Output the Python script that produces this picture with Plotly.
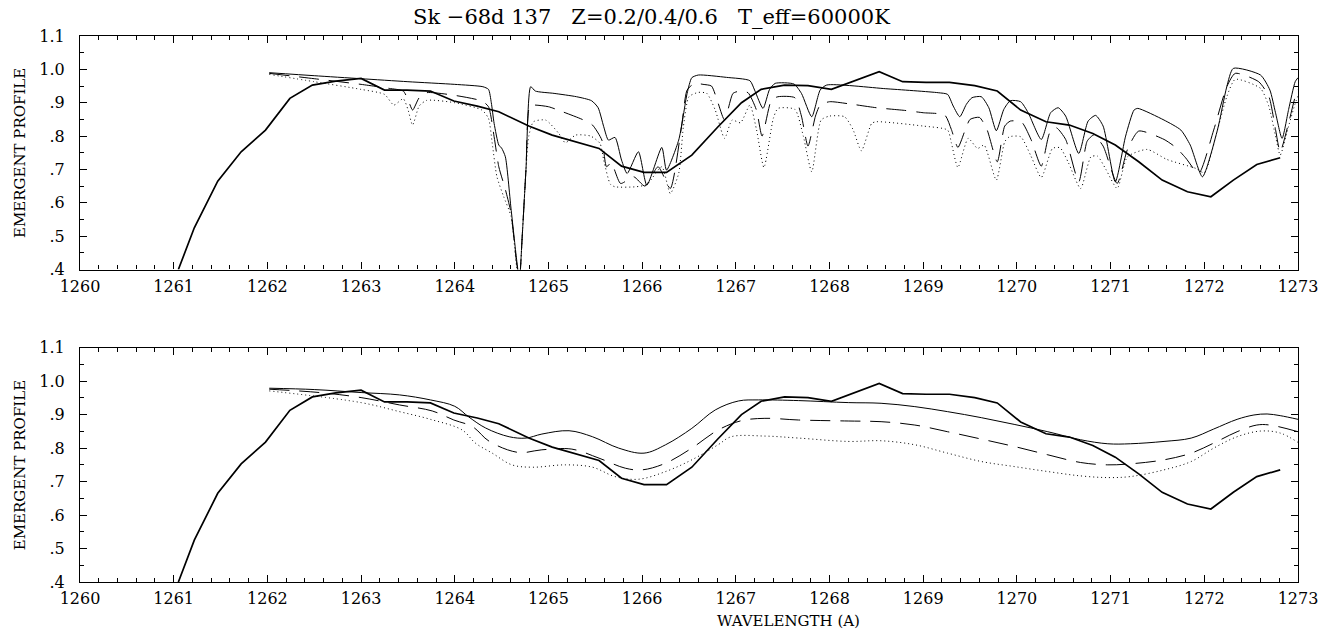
import plotly.graph_objects as go

# ---------------- data ----------------
# observed spectrum (thick solid), same in both panels
obs_x = [1261.05, 1261.22, 1261.47, 1261.72, 1261.98, 1262.24, 1262.48, 1262.73, 1263.00, 1263.25,
         1263.49, 1263.74, 1263.99, 1264.24, 1264.47, 1264.79, 1265.04, 1265.29, 1265.54, 1265.78,
         1266.02, 1266.26, 1266.53, 1266.81, 1267.06, 1267.27, 1267.52, 1267.77, 1268.02, 1268.53,
         1268.78, 1269.03, 1269.28, 1269.55, 1269.79, 1270.04, 1270.31, 1270.56, 1270.81, 1271.05,
         1271.30, 1271.55, 1271.82, 1272.07, 1272.31, 1272.56, 1272.81]
obs_y = [0.400, 0.525, 0.665, 0.753, 0.818, 0.913, 0.953, 0.965, 0.973, 0.938,
         0.938, 0.935, 0.905, 0.890, 0.873, 0.830, 0.803, 0.783, 0.763, 0.710,
         0.691, 0.691, 0.743, 0.828, 0.900, 0.940, 0.953, 0.951, 0.940, 0.993,
         0.963, 0.961, 0.961, 0.951, 0.935, 0.878, 0.843, 0.833, 0.808, 0.773,
         0.723, 0.668, 0.633, 0.618, 0.668, 0.715, 0.735]

# model Z=0.2 (thin solid), unsmoothed
z2_x = [1262.02, 1262.50, 1263.00, 1263.50, 1264.00, 1264.30, 1264.36, 1264.39, 1264.42, 1264.47,
        1264.50, 1264.54, 1264.60, 1264.66, 1264.69, 1264.72, 1264.76, 1264.81, 1264.86, 1265.06,
        1265.30, 1265.46, 1265.53, 1265.59,
        1265.64, 1265.71, 1265.78, 1265.84, 1265.96, 1266.05, 1266.21, 1266.26, 1266.39, 1266.48,
        1266.53, 1266.60, 1266.90, 1267.15, 1267.20, 1267.29, 1267.36, 1267.42, 1267.62, 1267.70,
        1267.81, 1267.90, 1267.97, 1268.60, 1269.16, 1269.26, 1269.32, 1269.39, 1269.46, 1269.52,
        1269.62, 1269.70, 1269.78, 1269.86, 1269.93, 1270.04, 1270.12, 1270.26, 1270.36, 1270.44,
        1270.52, 1270.66, 1270.76, 1270.84, 1270.92, 1271.05, 1271.16, 1271.25, 1271.29, 1271.57,
        1271.75, 1271.85, 1271.98, 1272.14, 1272.24, 1272.31, 1272.60, 1272.70, 1272.76, 1272.83,
        1272.90, 1272.97, 1273.00]
z2_y = [0.990, 0.981, 0.972, 0.963, 0.955, 0.948, 0.940, 0.900, 0.838, 0.773,
        0.764, 0.738, 0.584, 0.430, 0.370, 0.500, 0.700, 0.948, 0.935, 0.928,
        0.918, 0.906, 0.885, 0.828,
        0.788, 0.796, 0.728, 0.688, 0.753, 0.653, 0.766, 0.698, 0.788, 0.928,
        0.975, 0.983, 0.976, 0.966, 0.938, 0.883, 0.940, 0.958, 0.956, 0.928,
        0.858, 0.938, 0.953, 0.942, 0.930, 0.925, 0.890, 0.858, 0.895, 0.915,
        0.918, 0.885, 0.816, 0.880, 0.906, 0.903, 0.870, 0.790, 0.870, 0.885,
        0.860, 0.748, 0.845, 0.862, 0.830, 0.663, 0.800, 0.878, 0.883, 0.848,
        0.818, 0.773, 0.678, 0.818, 0.948, 1.003, 0.983, 0.938, 0.870, 0.793,
        0.880, 0.963, 0.975]

# model Z=0.4 (dashed), unsmoothed
z4_x = [1262.02, 1262.50, 1263.00, 1263.30, 1263.45, 1263.50, 1263.55, 1263.62, 1263.70, 1264.00,
        1264.29, 1264.36, 1264.42, 1264.47, 1264.54, 1264.60, 1264.66, 1264.69, 1264.72, 1264.76,
        1264.80, 1264.85, 1265.00,
        1265.15, 1265.36, 1265.47, 1265.57, 1265.62, 1265.67, 1265.77, 1265.91, 1266.03, 1266.17,
        1266.30, 1266.42, 1266.48, 1266.56, 1266.65, 1266.74, 1266.80, 1266.88, 1266.97, 1267.05,
        1267.13, 1267.22, 1267.28, 1267.38, 1267.45, 1267.63, 1267.70, 1267.77, 1267.85, 1267.90,
        1268.00, 1268.20, 1268.50, 1268.80, 1269.00, 1269.23, 1269.30, 1269.37, 1269.45, 1269.50,
        1269.60, 1269.68, 1269.79, 1269.87, 1269.93, 1270.05, 1270.15, 1270.26, 1270.35, 1270.42,
        1270.52, 1270.66, 1270.75, 1270.82, 1270.92, 1271.07, 1271.18, 1271.30, 1271.57, 1271.70,
        1271.80, 1271.94, 1272.10, 1272.24, 1272.33, 1272.58, 1272.69, 1272.76, 1272.81, 1272.90,
        1272.97, 1273.00]
z4_y = [0.988, 0.972, 0.955, 0.943, 0.935, 0.910, 0.878, 0.915, 0.930, 0.922,
        0.905, 0.888, 0.798, 0.708, 0.640, 0.570, 0.420, 0.370, 0.500, 0.700,
        0.890, 0.893, 0.888,
        0.873, 0.850, 0.833, 0.788, 0.708, 0.720, 0.658, 0.678, 0.650, 0.708,
        0.643, 0.828, 0.938, 0.958, 0.955, 0.950, 0.908, 0.848, 0.928, 0.935,
        0.930, 0.878, 0.800, 0.908, 0.918, 0.915, 0.860, 0.770, 0.860, 0.893,
        0.903, 0.897, 0.885, 0.877, 0.870, 0.863, 0.820, 0.766, 0.820, 0.850,
        0.856, 0.820, 0.723, 0.830, 0.845, 0.842, 0.790, 0.710, 0.810, 0.825,
        0.790, 0.663, 0.785, 0.803, 0.770, 0.658, 0.760, 0.815, 0.790, 0.765,
        0.735, 0.688, 0.818, 0.948, 0.988, 0.963, 0.918, 0.820, 0.753, 0.840,
        0.918, 0.940]

# model Z=0.6 (dotted), unsmoothed
z6_x = [1262.02, 1262.50, 1263.00, 1263.25, 1263.35, 1263.45, 1263.50, 1263.55, 1263.62, 1263.70,
        1264.00, 1264.29, 1264.36, 1264.40, 1264.45, 1264.52, 1264.60, 1264.66, 1264.69, 1264.72,
        1264.76, 1264.79, 1264.84,
        1264.97, 1265.11, 1265.18, 1265.29, 1265.45, 1265.55, 1265.59, 1265.66, 1265.71, 1265.93,
        1266.05, 1266.21, 1266.30, 1266.39, 1266.44, 1266.50, 1266.60, 1266.69, 1266.78, 1266.88,
        1266.96, 1267.05, 1267.15, 1267.22, 1267.30, 1267.40, 1267.45, 1267.63, 1267.72, 1267.81,
        1267.91, 1268.00, 1268.16, 1268.25, 1268.34, 1268.45, 1268.50, 1269.00, 1269.26, 1269.30,
        1269.37, 1269.48, 1269.58, 1269.65, 1269.78, 1269.87, 1269.92, 1270.04, 1270.15, 1270.26,
        1270.38, 1270.46, 1270.55, 1270.68, 1270.79, 1270.86, 1270.95, 1271.07, 1271.18, 1271.39,
        1271.60, 1271.91, 1272.00, 1272.14, 1272.24, 1272.33, 1272.60, 1272.69, 1272.76, 1272.81,
        1272.90, 1272.97, 1273.00]
z6_y = [0.985, 0.963, 0.940, 0.925, 0.893, 0.912, 0.880, 0.833, 0.890, 0.907,
        0.900, 0.878, 0.853, 0.778, 0.678, 0.620, 0.560, 0.410, 0.370, 0.500,
        0.700, 0.800, 0.843,
        0.848, 0.808, 0.780, 0.803, 0.800, 0.778, 0.728, 0.656, 0.648, 0.648,
        0.655, 0.708, 0.628, 0.688, 0.828, 0.918, 0.931, 0.928, 0.878, 0.793,
        0.848, 0.840, 0.893, 0.820, 0.706, 0.853, 0.883, 0.880, 0.800, 0.693,
        0.848, 0.860, 0.858, 0.820, 0.756, 0.838, 0.843, 0.830, 0.818, 0.780,
        0.706, 0.793, 0.763, 0.773, 0.668, 0.783, 0.798, 0.798, 0.740, 0.676,
        0.763, 0.765, 0.720, 0.643, 0.738, 0.740, 0.700, 0.643, 0.738, 0.760,
        0.730, 0.703, 0.690, 0.818, 0.918, 0.970, 0.943, 0.888, 0.800, 0.743,
        0.830, 0.898, 0.920]

# smoothed (convolved) models, lower panel
s2_x = [1262.02, 1262.50, 1263.00, 1263.41, 1263.74, 1264.00, 1264.15, 1264.33, 1264.58, 1264.76,
        1264.93, 1265.22, 1265.47, 1265.75, 1266.02, 1266.25, 1266.53, 1266.78, 1267.03, 1267.24,
        1267.67, 1268.20, 1268.55, 1268.91, 1269.26, 1269.62, 1269.97, 1270.33, 1270.68, 1270.97,
        1271.21, 1271.57, 1271.86, 1272.10, 1272.35, 1272.53, 1272.67, 1272.81, 1273.00]
s2_y = [0.979, 0.975, 0.966, 0.959, 0.944, 0.925, 0.893, 0.860, 0.834, 0.830,
        0.842, 0.852, 0.834, 0.800, 0.785, 0.810, 0.859, 0.914, 0.941, 0.944,
        0.942, 0.936, 0.934, 0.924, 0.909, 0.891, 0.871, 0.849, 0.825, 0.813,
        0.813, 0.820, 0.830, 0.857, 0.886, 0.899, 0.902, 0.897, 0.886]

s4_x = [1262.02, 1262.56, 1263.00, 1263.41, 1263.76, 1263.99, 1264.19, 1264.37, 1264.68, 1264.93,
        1265.25, 1265.54, 1265.82, 1266.00, 1266.25, 1266.53, 1266.81, 1267.06, 1267.31, 1267.67,
        1268.20, 1268.55, 1268.91, 1269.26, 1269.62, 1269.97, 1270.33, 1270.68, 1270.97, 1271.21,
        1271.57, 1271.86, 1272.10, 1272.35, 1272.56, 1272.70, 1273.00]
s4_y = [0.976, 0.966, 0.951, 0.929, 0.911, 0.884, 0.864, 0.820, 0.787, 0.795,
        0.797, 0.770, 0.740, 0.735, 0.755, 0.800, 0.854, 0.882, 0.889, 0.884,
        0.881, 0.879, 0.869, 0.849, 0.827, 0.805, 0.780, 0.757, 0.750, 0.753,
        0.765, 0.785, 0.815, 0.849, 0.869, 0.869, 0.849]

s6_x = [1262.02, 1263.00, 1263.41, 1263.74, 1264.08, 1264.22, 1264.40, 1264.61, 1264.83, 1265.18,
        1265.47, 1265.71, 1265.96, 1266.25, 1266.53, 1266.81, 1266.95, 1267.31, 1267.67, 1268.20,
        1268.55, 1268.91, 1269.26, 1269.62, 1269.97, 1270.33, 1270.68, 1270.97, 1271.21, 1271.57,
        1271.86, 1272.10, 1272.35, 1272.60, 1272.81, 1273.00]
s6_y = [0.971, 0.936, 0.909, 0.886, 0.854, 0.815, 0.785, 0.750, 0.743, 0.750,
        0.743, 0.715, 0.707, 0.730, 0.765, 0.810, 0.834, 0.836, 0.830, 0.820,
        0.822, 0.810, 0.785, 0.760, 0.745, 0.730, 0.717, 0.712, 0.715, 0.735,
        0.760, 0.800, 0.834, 0.851, 0.845, 0.817]

x_ticks = list(range(1260, 1274))
y_ticks = [0.4, 0.5, 0.6, 0.7, 0.8, 0.9, 1.0, 1.1]
y_ticktext = [".4", ".5", ".6", ".7", ".8", ".9", "1.0", "1.1"]

title_text = "Sk \u221268d 137\u00a0\u00a0 Z=0.2/0.4/0.6\u00a0\u00a0 T_eff=60000K"
xlabel = "WAVELENGTH (A)"
ylabel = "EMERGENT PROFILE"

# ---------------- figure ----------------
FONT = "DejaVu Serif"
fig = go.Figure()

def add_panel(xa, ya, models, smooth):
    styles = [dict(color="black", width=1.0, dash="solid"),
              dict(color="black", width=1.0, dash="20px,10px"),
              dict(color="black", width=1.0, dash="1px,3px")]
    for (mx, my), st in zip(models, styles):
        fig.add_trace(go.Scatter(x=mx, y=my, mode="lines", xaxis=xa, yaxis=ya,
                                 line=dict(shape="spline", smoothing=1.0 if smooth else 0.6, **st),
                                 showlegend=False, hoverinfo="skip"))
    fig.add_trace(go.Scatter(x=obs_x, y=obs_y, mode="lines", xaxis=xa, yaxis=ya,
                             line=dict(color="black", width=1.7),
                             showlegend=False, hoverinfo="skip"))

add_panel("x", "y", [(z2_x, z2_y), (z4_x, z4_y), (z6_x, z6_y)], False)
add_panel("x2", "y2", [(s2_x, s2_y), (s4_x, s4_y), (s6_x, s6_y)], True)

tickfont = dict(family=FONT, size=16, color="black")
def xaxis(anchor):
    return dict(range=[1260, 1273], tickmode="array", tickvals=x_ticks,
                ticktext=[str(v) for v in x_ticks],
                ticks="inside", ticklen=7, tickwidth=1, tickcolor="black",
                showline=True, linecolor="black", linewidth=1.2, mirror="ticks",
                showgrid=False, zeroline=False, anchor=anchor, domain=[0, 1],
                minor=dict(dtick=0.2, tick0=1260, ticks="inside", ticklen=4,
                           tickcolor="black", tickwidth=1, showgrid=False),
                tickfont=tickfont, ticklabelstandoff=2)

def yaxis(anchor, dom):
    return dict(range=[0.4, 1.1], tickmode="array", tickvals=y_ticks, ticktext=y_ticktext,
                ticks="inside", ticklen=7, tickwidth=1, tickcolor="black",
                showline=True, linecolor="black", linewidth=1.2, mirror="ticks",
                showgrid=False, zeroline=False, anchor=anchor, domain=dom,
                minor=dict(dtick=0.05, tick0=0.4, ticks="inside", ticklen=4,
                           tickcolor="black", tickwidth=1, showgrid=False),
                tickfont=tickfont, ticklabelstandoff=11)

fig.update_layout(
    width=1330, height=629,
    margin=dict(l=80, r=29, t=36, b=47),
    paper_bgcolor="white", plot_bgcolor="white",
    xaxis=xaxis("y"), yaxis=yaxis("x", [0.5723, 1.0]),
    xaxis2=xaxis("y2"), yaxis2=yaxis("x2", [0.0, 0.4291]),
    annotations=[
        dict(text=title_text, x=0.4693, y=1.034, xref="paper", yref="paper",
             showarrow=False, xanchor="center", yanchor="middle",
             font=dict(family=FONT, size=21, color="black")),
        dict(text=xlabel, x=0.5815, y=-0.0714, xref="paper", yref="paper",
             showarrow=False, xanchor="center", yanchor="middle",
             font=dict(family=FONT, size=15, color="black")),
        dict(text=ylabel, x=-0.0491, y=0.786, xref="paper", yref="paper",
             showarrow=False, xanchor="center", yanchor="middle", textangle=-90,
             font=dict(family=FONT, size=15, color="black")),
        dict(text=ylabel, x=-0.0491, y=0.2143, xref="paper", yref="paper",
             showarrow=False, xanchor="center", yanchor="middle", textangle=-90,
             font=dict(family=FONT, size=15, color="black")),
    ],
)

fig.write_html("out.html", config={"displayModeBar": False},
               post_script="document.body.style.margin='0px';document.body.style.overflow='hidden';")
